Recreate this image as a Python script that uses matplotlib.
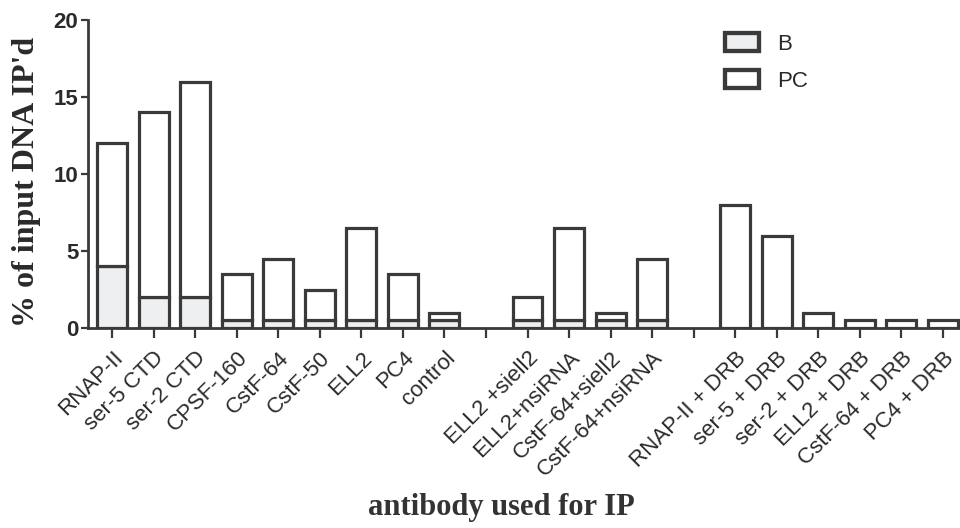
import matplotlib
matplotlib.use("Agg")
import matplotlib.pyplot as plt
import numpy as np
from matplotlib.patches import Patch

# "" marks the empty slots between the three groups
labels = ["RNAP-II", "ser-5 CTD", "ser-2 CTD", "CPSF-160", "CstF-64", "CstF-50",
          "ELL2", "PC4", "control", "",
          "ELL2 +siell2", "ELL2+nsiRNA", "CstF-64+siell2", "CstF-64+nsiRNA", "",
          "RNAP-II + DRB", "ser-5 + DRB", "ser-2 + DRB", "ELL2 + DRB",
          "CstF-64 + DRB", "PC4 + DRB"]
b_vals = [4, 2, 2, 0.5, 0.5, 0.5, 0.5, 0.5, 0.5, np.nan,
          0.5, 0.5, 0.5, 0.5, np.nan,
          0, 0, 0, 0, 0, 0]
pc_vals = [8, 12, 14, 3.0, 4.0, 2.0, 6.0, 3.0, 0.5, np.nan,
           1.5, 6.0, 0.5, 4.0, np.nan,
           8, 6, 1.0, 0.5, 0.5, 0.5]

edge = "#3a3a3a"
txt = "#2a2a2a"
lw = 2.3

fig = plt.figure(figsize=(9.6, 5.28), dpi=100)
ax = fig.add_axes([88 / 960, 1 - 328 / 528, 1 - 88 / 960, (328 - 20) / 528])

x = np.arange(len(labels))
b = np.array(b_vals, dtype=float)
pc = np.array(pc_vals, dtype=float)
ok = ~np.isnan(b)

ax.bar(x[ok], b[ok], width=0.72, color="#eeeff0", edgecolor=edge, linewidth=lw,
       label="B", zorder=2)
ax.bar(x[ok], pc[ok], bottom=b[ok], width=0.72, color="white", edgecolor=edge,
       linewidth=lw, label="PC", zorder=2)

ax.set_xlim(-0.58, 20.41)
ax.set_ylim(0, 20)
ax.set_yticks([0, 5, 10, 15, 20])
ax.set_xticks(x)
ax.set_xticklabels(labels, rotation=45, ha="right", rotation_mode="anchor",
                   fontsize=16, family="Liberation Sans", color=txt)
for t in ax.get_yticklabels():
    t.set_fontsize(16)
    t.set_fontweight("bold")
    t.set_family("Liberation Sans")
    t.set_color(txt)

for s in ["top", "right"]:
    ax.spines[s].set_visible(False)
for s in ["left", "bottom"]:
    ax.spines[s].set_linewidth(2.0)
    ax.spines[s].set_color(edge)
ax.tick_params(axis="x", length=7, width=1.6, color=edge, pad=7)
ax.tick_params(axis="y", length=5, width=1.6, color=edge, pad=2)

ax.set_ylabel("% of input DNA IP'd", fontsize=23, fontweight="bold",
              family="Liberation Serif", color=txt)
ax.yaxis.set_label_coords(-0.054, 0.474)
fig.text(0.522, 0.038, "antibody used for IP", fontsize=22, fontweight="bold",
         family="Liberation Serif", color="#333333", ha="center", va="center")

handles = [Patch(facecolor="#eeeff0", edgecolor=edge, linewidth=lw + 0.8, label="B"),
           Patch(facecolor="white", edgecolor=edge, linewidth=lw + 0.8, label="PC")]
leg = fig.legend(handles=handles, loc="upper left", bbox_to_anchor=(725 / 960, 1 - 33 / 528),
                 frameon=False, handlelength=1.55, handleheight=0.85,
                 labelspacing=0.7, handletextpad=0.8, borderpad=0, borderaxespad=0,
                 prop={"family": "Liberation Sans", "size": 16})
for t in leg.get_texts():
    t.set_color(txt)

fig.savefig("out.png", dpi=100)
